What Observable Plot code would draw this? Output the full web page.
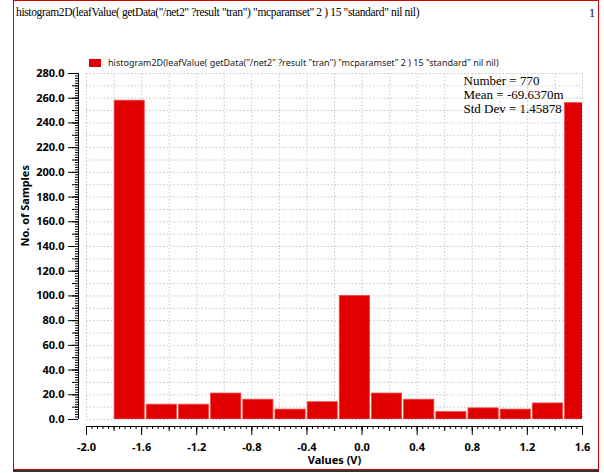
<!DOCTYPE html>
<html>
<head>
<meta charset="utf-8">
<script src="https://cdn.jsdelivr.net/npm/d3@7"></script>
<script src="https://cdn.jsdelivr.net/npm/@observablehq/plot@0.6"></script>
<style>
  html, body { margin: 0; padding: 0; background: #fff; }
  #wrap { position: relative; width: 604px; height: 473px; overflow: hidden; background: #fff; }
  #frame { position: absolute; left: 13px; top: 0px; width: 584px; height: 468px; border: 1px solid #d00000; box-shadow: 0 2px 0 #333; }
  #title { position: absolute; left: 16px; top: 6px; font-family: "Liberation Serif", serif; font-size: 11.5px; letter-spacing: -0.35px; color: #000; white-space: nowrap; }
  #page { position: absolute; right: 9px; top: 6px; font-family: "Liberation Serif", serif; font-size: 12px; color: #000; }
  #legend { position: absolute; left: 89px; top: 56px; display: flex; align-items: center; font-family: "Noto Sans", sans-serif; font-size: 9px; color: #222; white-space: nowrap; }
  #legend .sw { width: 12px; height: 8px; background: #e00000; margin-right: 7px; }
  #chart { position: absolute; left: 0; top: 0; }
</style>
</head>
<body>
<div id="wrap">
  <div id="frame"></div>
  <div id="title"></div>
  <div id="page"></div>
  <div id="legend"><div class="sw"></div><span id="legtext"></span></div>
  <div id="chart"></div>
</div>
<script>
// ---- data ----
const titleText = 'histogram2D(leafValue( getData("/net2" ?result "tran") "mcparamset" 2 ) 15 "standard" nil nil)';
const pageNumber = "1";
const seriesName = titleText;
const binEdges = [-1.803, -1.570, -1.336, -1.103, -0.869, -0.636, -0.402, -0.169, 0.065, 0.298, 0.532, 0.765, 0.999, 1.232, 1.466, 1.699];
const counts = [258, 12, 12, 21, 16, 8, 14, 100, 21, 16, 6, 9, 8, 13, 256];
const xTicks = [-2.0, -1.6, -1.2, -0.8, -0.4, 0.0, 0.4, 0.8, 1.2, 1.6];
const yTicks = [0, 20, 40, 60, 80, 100, 120, 140, 160, 180, 200, 220, 240, 260, 280];
const statLines = ["Number = 770", "Mean = -69.6370m", "Std Dev = 1.45878"];
const xLabel = "Values (V)";
const yLabel = "No. of Samples";

// ---- build ----
document.getElementById("title").textContent = titleText;
document.getElementById("page").textContent = pageNumber;
document.getElementById("legtext").textContent = seriesName;

const bins = counts.map((c, i) => ({x1: binEdges[i], x2: binEdges[i + 1], count: c}));
const xDomain = [xTicks[0], xTicks[xTicks.length - 1]];
const yDomain = [yTicks[0], yTicks[yTicks.length - 1]];
const xMinor = d3.range(0, 91).map(i => xDomain[0] + i * 0.04);
const xMid = d3.range(0, 19).map(i => xDomain[0] + i * 0.2);
const yMinor = d3.range(0, 141).map(i => i * 2);
const yMid = d3.range(0, 29).map(i => i * 10);

const sans = "'Noto Sans', 'Open Sans', sans-serif";
const gridStyle = {stroke: "#c8c8c8", strokeOpacity: 1, strokeDasharray: "1.5,2", strokeWidth: 1};

const chart = Plot.plot({
  width: 604,
  height: 473,
  marginLeft: 86,
  marginRight: 22,
  marginTop: 73,
  marginBottom: 54,
  x: {domain: xDomain},
  y: {domain: yDomain},
  style: {background: "transparent", fontFamily: sans, color: "#000"},
  marks: [
    Plot.gridX(xMid, gridStyle),
    Plot.gridY(yMid, gridStyle),
    Plot.rectY(bins, {x1: "x1", x2: "x2", y: "count", fill: "#e00000", stroke: "#f04848", strokeWidth: 0.8, insetLeft: 1, insetRight: 1, clip: true}),
    // y axis
    Plot.ruleX([xDomain[0]], {dx: -8, y1: yDomain[0], y2: yDomain[1], stroke: "#000"}),
    Plot.axisY(yMinor, {tickSize: 3, text: null, dx: -8, label: null}),
    Plot.axisY(yMid, {tickSize: 6, text: null, dx: -8, label: null}),
    Plot.axisY(yTicks, {tickSize: 10, tickPadding: 4, dx: -8, tickFormat: d => d.toFixed(1), fontWeight: "bold", fontSize: 11, label: null}),
    // x axis
    Plot.ruleY([yDomain[0]], {dy: 7, stroke: "#000"}),
    Plot.axisX(xMinor, {tickSize: 3, text: null, dy: 7, label: null}),
    Plot.axisX(xMid, {tickSize: 5, text: null, dy: 7, label: null}),
    Plot.axisX(xTicks, {tickSize: 9, tickPadding: 8, dy: 7, tickFormat: d => d.toFixed(1), fontWeight: "bold", fontSize: 11, label: null}),
    // axis labels
    Plot.text([yLabel], {frameAnchor: "left", rotate: -90, dx: -61, fontWeight: "bold", fontSize: 11}),
    Plot.text([xLabel], {frameAnchor: "bottom", dy: 44, fontWeight: "bold", fontSize: 11}),
    // statistics
    Plot.text([statLines.join("\n")], {frameAnchor: "top-left", textAnchor: "start", lineAnchor: "top", dx: 377, dy: 1, lineHeight: 1.1, fontFamily: "'Liberation Serif', serif", fontSize: 13, fill: "#000"})
  ]
});
document.getElementById("chart").appendChild(chart);
</script>
</body>
</html>
